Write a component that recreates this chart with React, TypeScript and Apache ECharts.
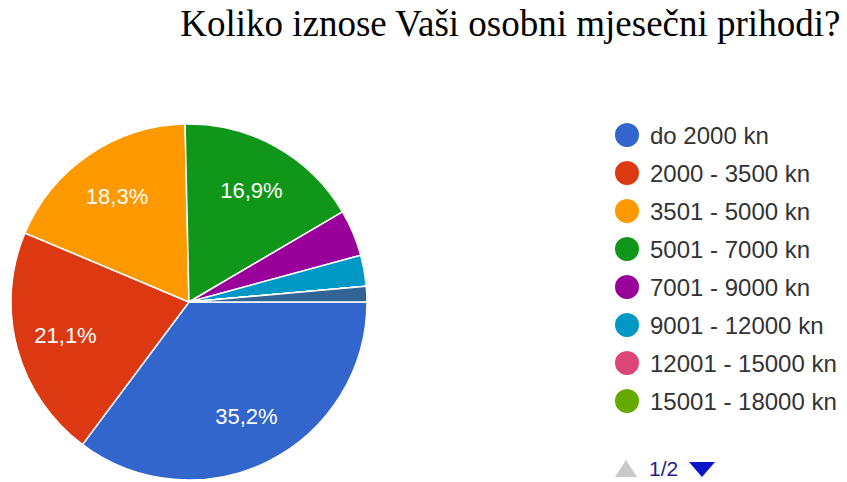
import React, { useEffect, useRef } from "react";
import * as echarts from "echarts";

const titleText = "Koliko iznose Vaši osobni mjesečni prihodi?";
const categories = [
  "do 2000 kn",
  "2000 - 3500 kn",
  "3501 - 5000 kn",
  "5001 - 7000 kn",
  "7001 - 9000 kn",
  "9001 - 12000 kn",
  "12001 - 15000 kn",
  "15001 - 18000 kn",
  "18001 - 21000 kn",
  "više od 21000 kn",
];
const counts = [25, 15, 13, 12, 3, 2, 0, 0, 0, 1];
const colors = [
  "#3366cc",
  "#dc3912",
  "#ff9900",
  "#109618",
  "#990099",
  "#0099c6",
  "#dd4477",
  "#66aa00",
  "#b82e2e",
  "#316395",
];
const legendPageSize = 8;
const currentPage = 1;
const totalPages = Math.ceil(categories.length / legendPageSize);

export default function App() {
  const ref = useRef<HTMLDivElement>(null);
  useEffect(() => {
    if (!ref.current) return;
    const chart = echarts.init(ref.current, null, { renderer: "svg" });
    const data = categories.map((name, i) => ({ name, value: counts[i] }));
    const total = counts.reduce((a, b) => a + b, 0);
    const center = [189, 302];
    chart.setOption({
      animation: false,
      color: colors,
      title: {
        text: titleText,
        right: 1,
        top: 0,
        textStyle: {
          fontFamily: "Liberation Serif",
          fontSize: 37,
          fontWeight: "normal",
          color: "#000",
        },
      },
      legend: {
        orient: "vertical",
        left: 613,
        top: 121,
        padding: 0,
        icon: "circle",
        itemWidth: 26,
        itemHeight: 26,
        itemGap: 10,
        textStyle: {
          fontFamily: "Liberation Sans",
          fontSize: 24,
          lineHeight: 24,
          color: "#333",
          padding: [0, 0, 0, 5],
        },
        data: categories.slice(0, legendPageSize),
      },
      graphic: [
        {
          type: "polygon",
          silent: true,
          shape: { points: [[615, 477], [637, 477], [626, 460]] },
          style: { fill: "#c8c8c8" },
        },
        {
          type: "text",
          silent: true,
          x: 649,
          y: 479,
          style: {
            text: `${currentPage}/${totalPages}`,
            fill: "#222288",
            font: "21px 'Liberation Sans'",
            textVerticalAlign: "bottom",
          },
        },
        {
          type: "polygon",
          silent: true,
          shape: { points: [[689, 462], [715, 462], [702, 477]] },
          style: { fill: "#0a14c8" },
        },
      ],
      series: [
        {
          type: "pie",
          center,
          radius: [0, 178],
          startAngle: 0,
          clockwise: true,
          silent: true,
          label: { show: false },
          labelLine: { show: false },
          itemStyle: { borderColor: "#fff", borderWidth: 1.5 },
          data,
        },
        {
          type: "pie",
          center,
          radius: [72, 178],
          startAngle: 0,
          clockwise: true,
          silent: true,
          minShowLabelAngle: 20,
          itemStyle: { color: "rgba(0,0,0,0)", borderWidth: 0 },
          labelLine: { show: false },
          label: {
            show: true,
            position: "inside",
            color: "#fff",
            fontFamily: "Liberation Sans",
            fontSize: 22,
            formatter: (p: any) =>
              ((p.value / total) * 100).toFixed(1).replace(".", ",") + "%",
          },
          data,
        },
      ],
    });
    return () => chart.dispose();
  }, []);
  return (
    <div
      ref={ref}
      style={{ position: "absolute", left: 0, top: 0, width: 847, height: 482 }}
    />
  );
}
